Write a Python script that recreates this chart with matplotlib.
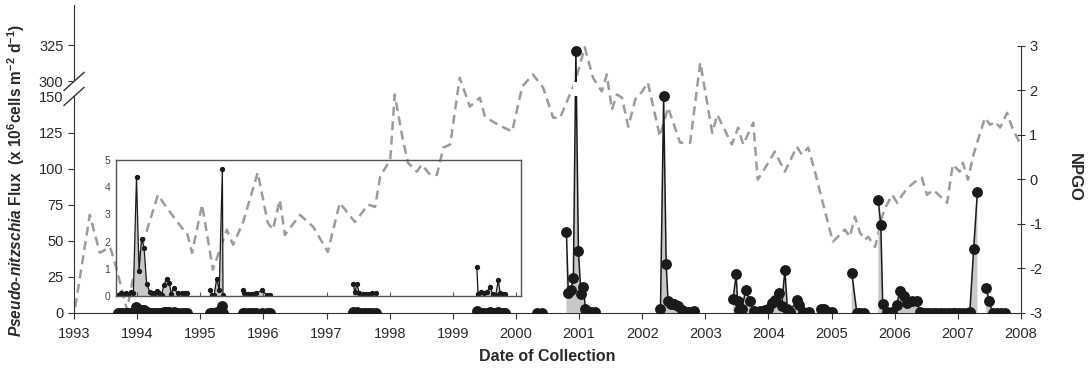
import numpy as np
import matplotlib
matplotlib.use("Agg")
import matplotlib.pyplot as plt
import matplotlib.transforms as mtransforms
from matplotlib.lines import Line2D
from matplotlib.patches import Polygon

plt.rcParams["font.family"] = ["Liberation Sans", "DejaVu Sans"]
plt.rcParams["mathtext.fontset"] = "custom"
plt.rcParams["mathtext.rm"] = "Liberation Sans:bold"
plt.rcParams["mathtext.it"] = "Liberation Sans:bold:italic"
plt.rcParams["mathtext.bf"] = "Liberation Sans:bold"

# NPGO index (decimal year, value)
npgo_year = [
    1993.02, 1993.25, 1993.41, 1993.57, 1993.65, 1993.84, 1993.92, 1994.00, 1994.33, 1994.47,
    1994.73, 1994.79, 1994.87, 1995.03, 1995.20, 1995.42, 1995.52, 1995.68, 1995.91, 1996.07,
    1996.15, 1996.26, 1996.34, 1996.58, 1996.79, 1997.02, 1997.21, 1997.45, 1997.66, 1997.77,
    1997.85, 1998.01, 1998.08, 1998.20, 1998.29, 1998.43, 1998.51, 1998.64, 1998.75, 1998.85,
    1998.96, 1999.11, 1999.27, 1999.43, 1999.51, 1999.72, 1999.94, 2000.10, 2000.27, 2000.43,
    2000.59, 2000.70, 2000.94, 2001.09, 2001.22, 2001.36, 2001.44, 2001.52, 2001.60, 2001.68,
    2001.78, 2001.89, 2002.00, 2002.09, 2002.28, 2002.41, 2002.60, 2002.76, 2002.92, 2003.11,
    2003.19, 2003.42, 2003.52, 2003.60, 2003.76, 2003.83, 2003.95, 2004.10, 2004.26, 2004.45,
    2004.53, 2004.63, 2004.74, 2004.93, 2005.02, 2005.13, 2005.21, 2005.29, 2005.37, 2005.45,
    2005.53, 2005.58, 2005.69, 2005.80, 2005.85, 2005.96, 2006.04, 2006.12, 2006.21, 2006.32,
    2006.43, 2006.51, 2006.61, 2006.75, 2006.83, 2006.92, 2007.03, 2007.08, 2007.16, 2007.24,
    2007.32, 2007.43, 2007.51, 2007.59, 2007.67, 2007.78, 2007.86, 2007.98,
]
npgo_val = [
    -2.87, -0.80, -1.65, -1.52, -1.88, -2.93, -2.33, -1.85, -0.35, -0.64,
    -1.13, -1.20, -1.65, -0.57, -2.03, -1.13, -1.47, -0.96, 0.15, -0.98,
    -1.13, -0.46, -1.25, -0.80, -1.07, -1.63, -0.53, -0.96, -0.57, -0.62,
    0.06, 0.44, 1.90, 0.96, 0.37, 0.17, 0.33, 0.10, 0.10, 0.71,
    0.78, 2.28, 1.63, 1.83, 1.40, 1.22, 1.07, 2.08, 2.35, 2.06,
    1.38, 1.38, 2.19, 2.96, 2.28, 1.97, 2.35, 1.56, 1.90, 1.83,
    1.18, 1.79, 1.97, 2.17, 0.96, 1.61, 0.82, 0.82, 2.62, 1.04,
    1.45, 0.78, 1.16, 0.78, 1.27, -0.01, 0.26, 0.62, 0.17, 0.73,
    0.55, 0.71, 0.15, -0.91, -1.40, -1.25, -1.13, -1.29, -0.84, -1.20,
    -1.36, -1.29, -1.52, -0.84, -0.64, -0.35, -0.53, -0.35, -0.19, -0.06,
    0.03, -0.35, -0.24, -0.42, -0.53, 0.33, 0.17, 0.37, -0.01, 0.51,
    0.89, 1.38, 1.22, 1.29, 1.16, 1.49, 1.16, 0.82,
]

# Pseudo-nitzschia flux (x10^6 cells m-2 d-1); nan = gap between sampling runs
nan = np.nan
flux_year = [
    1993.70, 1993.74, 1993.78, 1993.82, 1993.86, 1993.90, 1993.94, 1993.99, 1994.03, 1994.07,
    1994.11, 1994.15, 1994.20, 1994.24, 1994.28, 1994.31, 1994.35, 1994.39, 1994.42, 1994.47,
    1994.51, 1994.54, 1994.58, 1994.64, 1994.71, 1994.76, 1994.79, 1994.80,
    1995.15, 1995.19, 1995.22, 1995.26, 1995.30, 1995.35, 1995.36, 1995.37,
    1995.67, 1995.70, 1995.75, 1995.80, 1995.84, 1995.88, 1995.98, 1996.05, 1996.10, 1996.11,
    1997.42, 1997.45, 1997.48, 1997.52, 1997.57, 1997.62, 1997.67, 1997.72, 1997.78, 1997.79,
    1999.38, 1999.40, 1999.45, 1999.50, 1999.54, 1999.59, 1999.63, 1999.68, 1999.72, 1999.75,
    1999.79, 1999.83, 1999.84,
    2000.33, 2000.42, 2000.43,
    2000.80, 2000.83, 2000.87, 2000.91, 2000.95, 2000.99, 2001.03, 2001.07, 2001.10, 2001.14,
    2001.19, 2001.25, 2001.26,
    2002.29, 2002.34, 2002.38, 2002.41, 2002.45, 2002.50, 2002.57, 2002.63, 2002.68, 2002.73,
    2002.77, 2002.82, 2002.83,
    2003.44, 2003.49, 2003.51, 2003.53, 2003.58, 2003.64, 2003.71, 2003.77, 2003.83, 2003.87,
    2003.94, 2004.00, 2004.05, 2004.10, 2004.17, 2004.21, 2004.26, 2004.30, 2004.34, 2004.45,
    2004.49, 2004.55, 2004.60, 2004.64, 2004.65,
    2004.84, 2004.88, 2004.95, 2005.00, 2005.01,
    2005.32, 2005.40, 2005.45, 2005.52, 2005.53,
    2005.74, 2005.78, 2005.81, 2005.87, 2005.95, 2006.03, 2006.08, 2006.15, 2006.20, 2006.28,
    2006.35, 2006.40, 2006.45, 2006.50, 2006.55, 2006.60, 2006.66, 2006.72, 2006.78, 2006.84,
    2006.90, 2006.96, 2007.02, 2007.08, 2007.14, 2007.19, 2007.25, 2007.31, 2007.32,
    2007.45, 2007.50, 2007.55, 2007.62, 2007.68, 2007.74,
]
flux_val = [
    0.05, 0.10, 0.08, 0.10, 0.05, 0.15, 0.10, 4.38, 0.92, 2.11,
    1.78, 0.46, 0.15, 0.12, 0.10, 0.20, 0.10, 0.03, 0.39, 0.64,
    0.48, 0.09, 0.31, 0.10, 0.10, 0.10, 0.12, nan,
    0.21, 0.05, 0.05, 0.64, 0.21, 4.66, 0.02, nan,
    0.21, 0.12, 0.08, 0.08, 0.08, 0.10, 0.21, 0.04, 0.04, nan,
    0.46, 0.15, 0.43, 0.10, 0.08, 0.08, 0.08, 0.10, 0.10, nan,
    1.05, 0.09, 0.15, 0.10, 0.15, 0.33, 0.07, 0.05, 0.58, 0.10,
    0.07, 0.07, nan,
    0.0, 0.0, nan,
    56, 14, 16, 24, 321, 43, 13, 18, 3, 1,
    0.5, 0.5, nan,
    3, 150, 34, 8, 6, 6, 4.5, 2, 0.5, 1,
    1, 1.5, nan,
    10, 27, 8, 2, 3, 16, 8, 1.5, 1, 1.5,
    2, 3, 7, 9, 14, 4.5, 30, 3, 1, 9,
    5.6, 1, 0, 0.5, nan,
    3, 2.5, 1, 0.5, nan,
    28, 0, 0, 0, nan,
    78, 61, 6.3, 0.5, 0.5, 5.6, 15, 11.5, 7, 8,
    8, 1, 0, 0, 0, 0, 0, 0, 0, 0,
    0, 0, 0, 0, 0, 1, 44, 84, nan,
    17, 8, 0, 0, 0, 0,
]

year_ticks = list(range(1993, 2009))
flux_ticks = [0, 25, 50, 75, 100, 125, 150, 300, 325]
npgo_ticks = [-3, -2, -1, 0, 1, 2, 3]
inset_ticks = [0, 1, 2, 3, 4, 5]

# broken flux axis: 150-300 squeezed into a small gap
GAP = 10.4


def fwd(y):
    y = np.asarray(y, float)
    return np.where(y <= 150, y,
                    np.where(y >= 300, y - 300 + 150 + GAP, 150 + (y - 150) * GAP / 150))


def inv(v):
    v = np.asarray(v, float)
    return np.where(v <= 150, v,
                    np.where(v >= 150 + GAP, v - 150 - GAP + 300, 150 + (v - 150) * 150 / GAP))


fx = np.array(flux_year)
fy = np.array(flux_val)

fig = plt.figure(figsize=(10.88, 3.73), dpi=100)
ax = fig.add_axes([0.068, 0.161, 0.8704, 0.8257])
ax2 = ax.twinx()
ax.set_zorder(ax2.get_zorder() + 1)
ax.patch.set_visible(False)

txt = "#2a2a2a"
spine_c = "#333333"

# NPGO
ax2.plot(npgo_year, npgo_val, color="#9c9c9c", lw=1.8, dashes=(3.6, 2.2))
ax2.set_ylim(-3, 3.91)
ax2.set_yticks(npgo_ticks)
ax2.set_yticklabels(["-3", "-2", "-1", "0", "1", "2", "3"])
for s in ["top", "left", "bottom"]:
    ax2.spines[s].set_visible(False)
ax2.spines["right"].set_bounds(-3, 3)
ax2.spines["right"].set_color(spine_c)
ax2.tick_params(axis="y", direction="inout", length=6, labelsize=10.5, labelcolor=txt,
                color=spine_c, pad=3)
ax2.set_ylabel("NPGO", rotation=270, fontsize=12, fontweight="bold", color=txt)
ax2.yaxis.set_label_coords(1.064, 0.44)

# flux
ax.set_yscale("function", functions=(fwd, inv))
ax.fill_between(fx, 0, fy, color="#c8c8c8", lw=0, zorder=1)
ax.plot(fx, fy, color="#1a1a1a", lw=1.1, marker="o", ms=6.8, zorder=3)
ax.set_xlim(1993, 2008)
ax.set_ylim(0, 353)
ax.set_xticks(year_ticks)
ax.set_yticks(flux_ticks)
for s in ["top", "right"]:
    ax.spines[s].set_visible(False)
for s in ["left", "bottom"]:
    ax.spines[s].set_color(spine_c)
ax.tick_params(direction="out", length=4, labelsize=10.5, labelcolor=txt, color=spine_c)
ax.tick_params(axis="x", pad=6)
ax.set_xlabel("Date of Collection", fontsize=11.5, fontweight="bold", color=txt)
ax.xaxis.set_label_coords(0.5, -0.117)
ax.set_ylabel(r"$\mathit{Pseudo}$-$\mathit{nitzschia}$ Flux  (x 10$^{6}$cells m$^{-2}$ d$^{-1}$)",
              fontsize=11.2, fontweight="bold", color=txt)
ax.yaxis.set_label_coords(-0.05, 0.43)

# white gap where the tall spike crosses the break
ax.fill_between([2000.9, 2001.02], 153, 297, color="white", lw=0, zorder=4)

# break marks on the left spine
ident = mtransforms.IdentityTransform()
x0, y_lo = ax.transData.transform((1993, 150))
_, y_hi = ax.transData.transform((1993, 300))
fig.add_artist(Polygon([(x0 - 10, y_lo - 9), (x0 + 10, y_lo + 9), (x0 + 10, y_hi + 9),
                        (x0 - 10, y_hi - 9)], closed=True, facecolor="white",
                       edgecolor="none", transform=ident, zorder=10))
for yy in (y_lo, y_hi):
    fig.add_artist(Line2D([x0 - 10, x0 + 10], [yy - 9, yy + 9], color=spine_c, lw=1,
                          transform=ident, zorder=11))

# inset: low flux years
ins = fig.add_axes([0.1066, 0.2064, 0.3723, 0.3646])
ins.set_zorder(ax.get_zorder() + 1)
ins.patch.set_visible(False)
ins.fill_between(fx, 0, fy, color="#c8c8c8", lw=0)
ins.plot(fx, fy, color="#1a1a1a", lw=0.9, marker="o", ms=2.8)
ins.set_xlim(1993.665, 2000.08)
ins.set_ylim(0, 5)
ins.set_xticks(year_ticks[1:8])
ins.set_xticklabels([])
ins.set_yticks(inset_ticks)
ins.tick_params(axis="x", direction="in", length=3, color="#555555")
ins.tick_params(axis="y", length=0, labelsize=7.5, labelcolor="#444444", pad=4)
for s in ins.spines.values():
    s.set_color("#555555")
    s.set_linewidth(1)

fig.savefig("out.png", dpi=100)
